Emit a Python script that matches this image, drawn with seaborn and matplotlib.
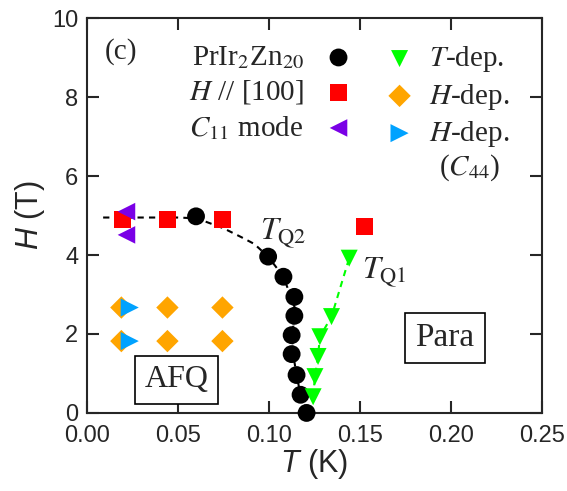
import numpy as np
import matplotlib
matplotlib.use("Agg")
import matplotlib.pyplot as plt
import seaborn as sns

# ---- data ----
circ_T = [0.060, 0.0996, 0.108, 0.114, 0.114, 0.1125, 0.1125, 0.1152, 0.1174, 0.1207]
circ_H = [4.98, 3.96, 3.45, 2.94, 2.46, 1.97, 1.49, 0.96, 0.46, 0.0]
sq_T = [0.0196, 0.0443, 0.0745, 0.1527]
sq_H = [4.91, 4.91, 4.89, 4.72]
left_T = [0.0218, 0.0218]
left_H = [5.10, 4.51]
down_T = [0.1243, 0.1253, 0.1270, 0.1280, 0.1344, 0.1441]
down_H = [0.41, 0.92, 1.43, 1.93, 2.44, 3.92]
dia_T = [0.019, 0.0443, 0.0745, 0.019, 0.0443, 0.0745]
dia_H = [2.67, 2.67, 2.67, 1.82, 1.82, 1.82]
right_T = [0.0236, 0.0236]
right_H = [2.67, 1.82]
# guide line for T_Q2
tq2_T = [0.009, 0.03, 0.05, 0.060, 0.065, 0.075, 0.085, 0.092, 0.0996, 0.108,
         0.114, 0.114, 0.1125, 0.1125, 0.1152, 0.1174, 0.1207]
tq2_H = [4.95, 4.95, 4.95, 4.93, 4.85, 4.68, 4.45, 4.28, 3.96, 3.45,
         2.94, 2.46, 1.97, 1.49, 0.96, 0.46, 0.0]

sns.set_style("ticks")
plt.rcParams['font.family'] = ['Liberation Sans', 'DejaVu Sans']
plt.rcParams['mathtext.fontset'] = 'custom'
plt.rcParams['mathtext.rm'] = 'Liberation Sans'
plt.rcParams['mathtext.it'] = 'Liberation Sans:italic'

fig = plt.figure(figsize=(5.67, 4.91), dpi=100)
ax = fig.add_axes([0.153, 0.159, 0.803, 0.804])

green = '#00ff00'
red = '#ff0000'
orange = '#ffa500'
purple = '#7a00e6'
blue = '#00a2ff'

sns.lineplot(x=tq2_T, y=tq2_H, sort=False, color='k', ls=(0, (3, 2.5)), lw=1.5, ax=ax)
sns.lineplot(x=down_T, y=down_H, sort=False, color=green, ls=(0, (3, 2.5)), lw=1.5, ax=ax)

kw = dict(ax=ax, edgecolor='none', clip_on=False, zorder=3)
sns.scatterplot(x=circ_T, y=circ_H, marker='o', s=165, color='k', label=r'PrIr$_2$Zn$_{20}$', **kw)
sns.scatterplot(x=sq_T, y=sq_H, marker='s', s=150, color=red, label=r'$H$ // [100]', **kw)
sns.scatterplot(x=left_T, y=left_H, marker='<', s=160, color=purple, label=r'$C_{11}$ mode', **kw)
sns.scatterplot(x=down_T, y=down_H, marker='v', s=150, color=green, label=r'$T$-dep.', **kw)
sns.scatterplot(x=dia_T, y=dia_H, marker='D', s=130, color=orange, label=r'$H$-dep.', **kw)
sns.scatterplot(x=right_T, y=right_H, marker='>', s=170, color=blue, label=r'$H$-dep.', **kw)

handles, labels = ax.get_legend_handles_labels()
lfont = dict(family='Liberation Serif', size=21)
leg1 = ax.legend(handles[:3], labels[:3], loc='upper right', bbox_to_anchor=(0.585, 0.934),
                 markerfirst=False, frameon=False, prop=lfont, handletextpad=0.7,
                 labelspacing=0.25, borderpad=0, borderaxespad=0, handlelength=1.0)
ax.add_artist(leg1)
leg2 = ax.legend(handles[3:], labels[3:], loc='upper left', bbox_to_anchor=(0.655, 0.934),
                 markerfirst=True, frameon=False, prop=lfont, handletextpad=0.5,
                 labelspacing=0.25, borderpad=0, borderaxespad=0, handlelength=1.0)
for lg in (leg1, leg2):
    for t in lg.get_texts():
        t.set_math_fontfamily('stix')

sfont = dict(family='Liberation Serif')
ax.text(0.2104, 6.22, r'($C_{44}$)', fontsize=21, ha='center', va='center',
        math_fontfamily='stix', **sfont)
ax.text(0.0099, 9.15, '(c)', fontsize=21, va='center', **sfont)
ax.text(0.095, 4.55, r'$T_{\mathrm{Q2}}$', fontsize=23, va='center', math_fontfamily='stix')
ax.text(0.151, 3.55, r'$T_{\mathrm{Q1}}$', fontsize=23, va='center', math_fontfamily='stix')
box = dict(boxstyle='square,pad=0.3', fc='white', ec='k', lw=1.2)
ax.text(0.1967, 1.9, 'Para', fontsize=24, ha='center', va='center', bbox=box, **sfont)
ax.text(0.0492, 0.84, 'AFQ', fontsize=23, ha='center', va='center', bbox=box, **sfont)

ax.set_xlim(0, 0.25)
ax.set_ylim(0, 10)
ax.set_xticks(np.arange(0, 0.251, 0.05))
ax.set_yticks(np.arange(0, 10.1, 2))
ax.xaxis.set_major_formatter(matplotlib.ticker.FormatStrFormatter('%.2f'))
ax.tick_params(direction='in', length=8.5, width=1.5, top=True, right=True, labelsize=17)
ax.tick_params(axis='x', pad=9)
ax.tick_params(axis='y', pad=6)
for sp in ax.spines.values():
    sp.set_linewidth(1.5)
ax.set_xlabel(r'$T$ (K)', fontsize=22, labelpad=0)
ax.set_ylabel(r'$H$ (T)', fontsize=22, labelpad=4)

fig.savefig('out.png', dpi=100)
